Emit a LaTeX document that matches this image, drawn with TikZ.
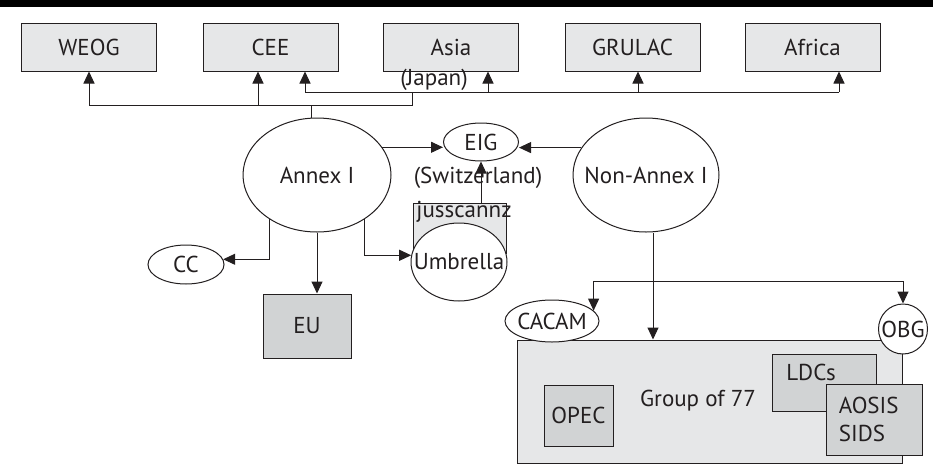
\documentclass[tikz,border=0pt]{standalone}
\usepackage{fontspec}
\setmainfont{PT Sans}
\usepackage{tikz}
\usetikzlibrary{shapes.geometric, arrows.meta, positioning, calc}
\definecolor{grplight}{RGB}{230,231,232}
\definecolor{grpdark}{RGB}{209,211,212}
\definecolor{inkgrey}{RGB}{35,31,32}

\tikzset{
  regionbox/.style={draw, fill=grplight, minimum width=135pt, minimum height=48pt, inner sep=0pt},
  subbox/.style={draw, fill=grpdark, inner sep=0pt},
  bloc/.style={draw, ellipse, fill=white, inner sep=0pt},
  arr/.style={-{Triangle[length=12pt, width=11pt]}}
}

\begin{document}
\begin{tikzpicture}[x=1pt, y=-1pt, color=inkgrey, line width=1pt, font=\fontsize{23}{27}\selectfont]
  \useasboundingbox (0,0) rectangle (933,466);
  \fill[black] (0,0) rectangle (933,7);

  % regional groups
  \node (weog)   [regionbox] at (89,47)    {WEOG};
  \node (cee)    [regionbox] at (270.5,47) {CEE};
  \node (asia)   [regionbox] at (451,47)   {Asia};
  \node (grulac) [regionbox] at (632.5,47) {GRULAC};
  \node (africa) [regionbox] at (812.5,47) {Africa};
  \node (japan) at (434,80) {(Japan)};

  \coordinate (busA) at (0,105);
  \coordinate (busB) at (0,92);
  \coordinate (busC) at (0,281);
  \coordinate (jpdrop) at (412,0);

  % negotiating blocs
  \node (annex)    [bloc, minimum width=148pt, minimum height=114pt, label=center:Annex I] at (317,175) {};
  \node (nonannex) [bloc, minimum width=146pt, minimum height=114pt, label=center:Non-Annex I] at (646,175) {};
  \node (eig)      [bloc, minimum width=75pt, minimum height=38pt, label=center:EIG] at (481,142) {};
  \node (switz) at (478,178) {(Switzerland)};
  \node (juss) [draw, fill=grplight, minimum width=93pt, minimum height=50pt, inner sep=0pt] at (459.5,228) {};
  \node (jusstxt) at (464,212) {jusscannz};
  \node (umbrella) [bloc, minimum width=96pt, minimum height=78pt, label=center:Umbrella] at (459,262) {};
  \node (cc) [bloc, minimum width=76pt, minimum height=39pt, label=center:CC] at (186,264.5) {};
  \node (eu) [subbox, minimum width=88pt, minimum height=64pt] at (307,326) {EU};

  % G77 and its subgroups
  \node (g77) [draw, fill=grplight, minimum width=385pt, minimum height=123pt, inner sep=0pt] at (709.5,401.5) {};
  \node (g77txt) at (698,401) {Group of 77};
  \node (opec) [subbox, minimum width=69pt, minimum height=61pt] at (578.5,415.5) {OPEC};
  \node (ldcs) [subbox, minimum width=104pt, minimum height=57pt] at (824,382.5) {};
  \node (ldcstxt) at (811,372) {LDCs};
  \node (aosis) [subbox, minimum width=96pt, minimum height=71pt] at (874,419.5) {};
  \node (aosistxt) [align=left, anchor=west] at (835,419) {AOSIS\\[1pt]SIDS};
  \node (cacam) [bloc, minimum width=94pt, minimum height=42pt, label=center:CACAM] at (552,321) {};
  \node (obg) [bloc, minimum width=49pt, minimum height=50pt, label=center:OBG] at (903,329) {};

  % connectors to regional groups
  \draw[arr] ([xshift=-6pt]annex.north) |- (weog.south |- busA) -- (weog.south);
  \draw[arr] ([xshift=-12.5pt]cee.south |- busA) -- ([xshift=-12.5pt]cee.south);
  \draw ([xshift=-6pt]annex.north |- busA) -- (jpdrop |- busA) -- (jpdrop |- busB);
  \draw ([xshift=34.5pt]cee.south |- busB) -- ([xshift=26.5pt]africa.south |- busB);
  \foreach \grp/\dx in {cee/34.5, asia/37, grulac/5.5, africa/26.5}
    \draw[arr] ([xshift=\dx pt]\grp.south |- busB) -- ([xshift=\dx pt]\grp.south);

  % connectors between blocs
  \draw[arr] (annex.23) -- (eig.west |- annex.23);
  \draw[arr] (nonannex.157) -- (eig.east |- nonannex.157);
  \draw[arr] (eig.south |- juss.north) -- (eig.south);
  \draw[arr] (annex.223) |- (cc.8);
  \draw[arr] (annex.317) |- (umbrella.172);
  \draw[arr] (annex.south) -- (annex.south |- eu.north);
  \draw[arr] ([xshift=7pt]nonannex.south) -- ([xshift=7pt]nonannex.south |- g77.north);
  \draw[arr] (cacam.14 |- busC) -- (cacam.14);
  \draw[arr] (cacam.14 |- busC) -| (obg.north);
\end{tikzpicture}
\end{document}
